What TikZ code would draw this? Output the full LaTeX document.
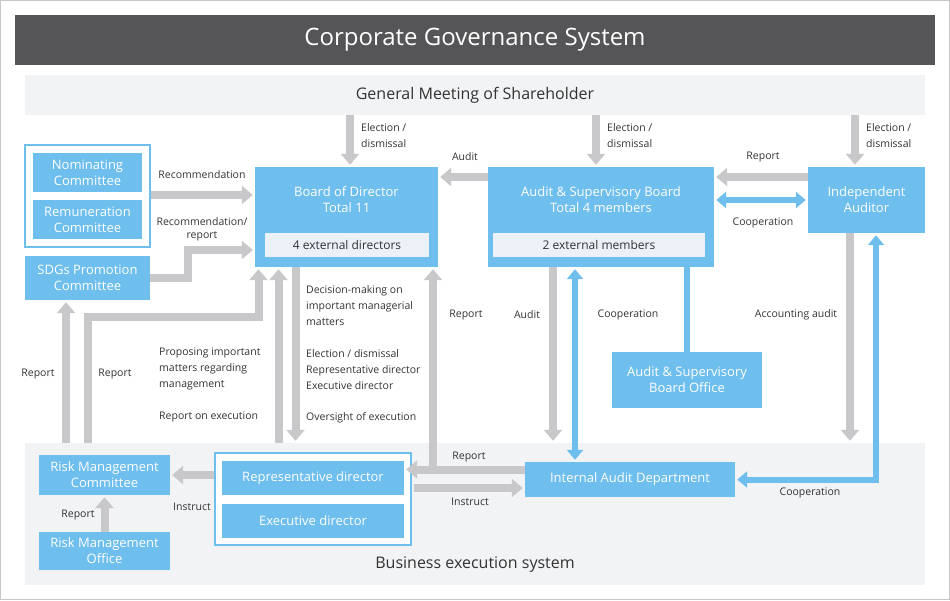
\documentclass[tikz,border=0pt]{standalone}
\usepackage{fontspec}
\setmainfont{Open Sans}
\usetikzlibrary{arrows.meta,calc}
\definecolor{cgblue}{RGB}{110,190,238}
\definecolor{cggray}{RGB}{200,200,202}
\definecolor{cgband}{RGB}{242,243,245}
\definecolor{cginner}{RGB}{236,241,248}
\definecolor{cgtitle}{RGB}{85,85,88}
\definecolor{cgtext}{RGB}{51,51,51}
\tikzset{
    box/.style={fill=cgblue, text=white, align=center, inner sep=0pt,
        font=\fontsize{13}{16}\selectfont},
    frame/.style={draw=cgblue, line width=1.5pt, fill=white, inner sep=0pt},
    inner/.style={fill=cginner, text=cgtext, inner sep=0pt, font=\fontsize{12}{14}\selectfont},
    lbl/.style={text=cgtext, align=left, inner sep=0pt, font=\fontsize{10.5}{16}\selectfont},
    garrow/.style={draw=cggray, line width=8pt, -{Triangle[width=18pt,length=11pt]}, shorten >=2pt},
    gline/.style={draw=cggray, line width=8pt},
    barrow/.style={draw=cgblue, line width=6pt, -{Triangle[width=16pt,length=10pt]}, shorten >=2pt},
    bboth/.style={draw=cgblue, line width=6pt, {Triangle[width=16pt,length=10pt]}-{Triangle[width=16pt,length=10pt]}, shorten >=2pt, shorten <=2pt},
}
\begin{document}
\begin{tikzpicture}[x=1pt, y=-1pt]

    % the frame
    \useasboundingbox (0,0) rectangle (950,600);
    \draw[cggray, line width=1pt] (0.5,0.5) rectangle (949.5,599.5);
    \node[fill=cgtitle, text=white, minimum width=920pt, minimum height=50pt,
        font=\fontsize{24}{28}\selectfont] (title) at (475,40) {Corporate Governance System};
    \node[fill=cgband, text=cgtext, minimum width=900pt, minimum height=40pt,
        font=\fontsize{16}{20}\selectfont] (gm) at (475,95) {General Meeting of Shareholder};
    \node[fill=cgband, minimum width=900pt, minimum height=142pt] (bes) at (475,514) {};
    \node[text=cgtext, font=\fontsize{16}{20}\selectfont] (bestext) at (475,565) {Business execution system};

    % the committees
    \node[frame, minimum width=125pt, minimum height=102pt] (grp) at (87.5,196) {};
    \node[box, minimum width=109pt, minimum height=39pt] (nom) at (87.5,172.5) {Nominating\\Committee};
    \node[box, minimum width=109pt, minimum height=39pt] (rem) at (87.5,219.5) {Remuneration\\Committee};
    \node[box, minimum width=125pt, minimum height=44pt] (sdg) at (87.5,278) {SDGs Promotion\\Committee};

    % the boards
    \node[box, minimum width=183pt, minimum height=100pt] (board) at (346.5,217) {};
    \node[box, fill=none] (boardtext) at (346.5,200) {Board of Director\\Total 11};
    \node[inner, minimum width=164pt, minimum height=24pt] (boardext) at (347,245) {4 external directors};
    \node[box, minimum width=226pt, minimum height=100pt] (asb) at (601,217) {};
    \node[box, fill=none] (asbtext) at (601,200) {Audit \& Supervisory Board\\Total 4 members};
    \node[inner, minimum width=212pt, minimum height=24pt] (asbext) at (599,245) {2 external members};
    \node[box, minimum width=117pt, minimum height=66pt] (ia) at (866.5,200) {Independent\\Auditor};
    \node[box, minimum width=150pt, minimum height=56pt] (office) at (687,380) {Audit \& Supervisory\\Board Office};

    % business execution
    \node[box, minimum width=131pt, minimum height=40pt] (rmc) at (104.5,475) {Risk Management\\Committee};
    \node[box, minimum width=131pt, minimum height=38pt] (rmo) at (104.5,551) {Risk Management\\Office};
    \node[frame, minimum width=196pt, minimum height=92pt] (exgrp) at (313,499) {};
    \node[box, minimum width=182pt, minimum height=34pt] (rep) at (313,478) {Representative director};
    \node[box, minimum width=182pt, minimum height=34pt] (exe) at (313,521) {Executive director};
    \node[box, minimum width=210pt, minimum height=35pt] (iad) at (630,479.5) {Internal Audit Department};

    % election from the general meeting
    \foreach \t/\s in {board/3.5, asb/-5, ia/-11.5} {
        \draw[garrow] ([xshift=\s pt]gm.south -| \t) -- ([xshift=\s pt]\t.north);
    }

    % committees to the board
    \coordinate (r1) at ([yshift=22pt]board.west);
    \coordinate (r2) at ([yshift=-33pt]board.west);
    \draw[garrow] (grp.east |- r1) -- (r1);
    \draw[garrow] (sdg.east) -- ++(38,0) |- (r2);

    % audit and report between the boards
    \coordinate (a1) at ([yshift=40pt]asb.west);
    \draw[garrow] (a1) -- (board.east |- a1);
    \coordinate (a2) at ([yshift=23pt]ia.west);
    \draw[garrow] (a2) -- (asb.east |- a2);
    \draw[bboth] (ia.west) -- (asb.east |- ia.west);

    % reports up to the board
    \draw[garrow] ([xshift=-38.5pt]bes.north -| rmc) -- ([xshift=-38.5pt]sdg.south -| rmc);
    \draw[garrow] ([xshift=-16.5pt]bes.north -| rmc) -- ([xshift=-16.5pt]rmc |- 0,317)
        -| ([xshift=-88pt]board.south);
    \draw[garrow] ([xshift=-68pt]bes.north -| board) -- ([xshift=-68pt]board.south);
    \draw[garrow] ([xshift=-51pt]board.south) -- ([xshift=-51pt]bes.north -| board);

    % internal audit department
    \coordinate (rj) at ([yshift=10pt]iad.west -| 433,0);
    \draw[garrow] ([yshift=10pt]iad.west) -- (rep.east |- rj);
    \draw[garrow] (rj) -- (board.south -| rj);
    \coordinate (ij) at ([yshift=-10pt]rep.east);
    \draw[garrow] ([xshift=2pt]exgrp.east |- ij) -- (iad.west |- ij);
    \draw[garrow] (exgrp.west |- rmc) -- (rmc.east);
    \draw[garrow] (rmo.north) -- (rmc.south);

    % audit lines below the boards
    \draw[garrow] ([xshift=-48pt]asb.south) -- ([xshift=-48pt]bes.north -| asb);
    \draw[bboth] ([xshift=-26pt]asb.south) -- ([xshift=-26pt]iad.north -| asb);
    \draw[cgblue, line width=6pt] (office.north) -- (asb.south -| office);
    \draw[garrow] ([xshift=-16.5pt]ia.south) -- ([xshift=-16.5pt]bes.north -| ia);
    \draw[bboth] (iad.east) -| ([xshift=9.5pt]ia.south);

    % labels
    \foreach \x in {361, 607, 866} {
        \node[lbl, anchor=west] (el\x) at (\x,136) {Election /\\dismissal};
    }
    \node[lbl] (lb1) at (465,157) {Audit};
    \node[lbl] (lb2) at (763,157) {Report};
    \node[lbl] (lb3) at (763,223) {Cooperation};
    \node[lbl] (lb4) at (202,175) {Recommendation};
    \node[lbl, align=center, font=\fontsize{10.5}{13}\selectfont] (lb5) at (202,229) {Recommendation/\\report};
    \node[lbl] (lb6) at (38,374) {Report};
    \node[lbl] (lb7) at (115,374) {Report};
    \node[lbl, anchor=west] (lb8) at (159,369) {Proposing important\\matters regarding\\management};
    \node[lbl, anchor=west] (lb9) at (159,417) {Report on execution};
    \node[lbl, anchor=west] (lb10) at (306,306) {Decision-making on\\important managerial\\matters};
    \node[lbl, anchor=west] (lb11) at (306,370) {Election / dismissal\\Representative director\\Executive director};
    \node[lbl, anchor=west] (lb12) at (306,418) {Oversight of execution};
    \node[lbl] (lb13) at (466,315) {Report};
    \node[lbl] (lb14) at (527,315) {Audit};
    \node[lbl] (lb15) at (628,315) {Cooperation};
    \node[lbl] (lb16) at (796,315) {Accounting audit};
    \node[lbl] (lb17) at (469,457) {Report};
    \node[lbl] (lb18) at (470,502) {Instruct};
    \node[lbl] (lb19) at (192,507) {Instruct};
    \node[lbl] (lb20) at (78,515) {Report};
    \node[lbl] (lb21) at (810,493) {Cooperation};

\end{tikzpicture}
\end{document}
